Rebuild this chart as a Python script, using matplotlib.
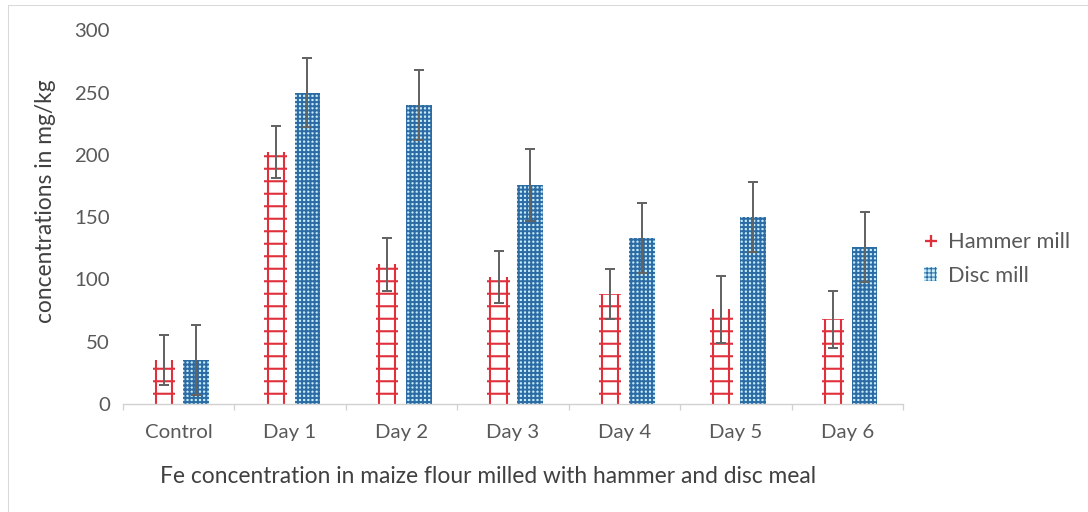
import numpy as np
import matplotlib
matplotlib.use("Agg")
import matplotlib.pyplot as plt
from matplotlib.lines import Line2D
from matplotlib.patches import Patch

plt.rcParams['font.family'] = ['Lato', 'DejaVu Sans']

categories = ['Control', 'Day 1', 'Day 2', 'Day 3', 'Day 4', 'Day 5', 'Day 6']
hammer = [35, 202, 112, 102, 88, 76, 68]
hammer_err = [20, 21, 21, 21, 20, 27, 23]
disc = [35, 250, 240, 176, 133, 150, 126]
disc_err = [28, 28, 28, 29, 28, 28, 28]

grey = '#636363'
red = '#e0303c'
blue = '#2c6ba3'
light = '#c8eefb'

x = np.arange(len(categories))
xh = x - 0.13
xd = x + 0.155

# dpi 75 keeps the hatch spacing close to the ladder look
fig = plt.figure(figsize=(1088 / 75, 512 / 75), dpi=75)
ax = fig.add_axes([0.113, 0.211, 0.717, 0.73])

with plt.rc_context({'hatch.linewidth': 2.0}):
    hb = ax.bar(xh, hammer, 0.2, color='white', edgecolor=red, linewidth=0, hatch='-')
with plt.rc_context({'hatch.linewidth': 1.9}):
    db = ax.bar(xd, disc, 0.23, color=light, edgecolor=blue, linewidth=0, hatch='+++')
for p in hb:
    if hasattr(p, 'set_hatch_linewidth'):
        p.set_hatch_linewidth(2.0)
for p in db:
    if hasattr(p, 'set_hatch_linewidth'):
        p.set_hatch_linewidth(1.9)

# the two rails of each hammer-mill ladder
ax.vlines(np.concatenate([xh - 0.072, xh + 0.072]), 0, hammer + hammer,
          colors=red, linewidth=2.0)

ax.errorbar(xh, hammer, yerr=hammer_err, fmt='none', ecolor=grey,
            elinewidth=1.9, capsize=4.5, capthick=1.9)
ax.errorbar(xd, disc, yerr=disc_err, fmt='none', ecolor=grey,
            elinewidth=1.9, capsize=4.5, capthick=1.9)

ax.set_ylim(0, 300)
ax.set_xlim(-0.5, len(categories) - 0.5)
ax.set_yticks(range(0, 301, 50))
ax.set_xticks(x)
ax.set_xticklabels(categories)
ax.set_xticks(np.arange(-0.5, len(categories), 1), minor=True)
ax.tick_params(axis='x', which='major', length=0, pad=19, labelsize=19.5, labelcolor='#595959')
ax.tick_params(axis='x', which='minor', length=6, width=1.2, color='#d0d0d0')
ax.tick_params(axis='y', length=0, pad=12.5, labelsize=19.5, labelcolor='#595959')
for s in ['top', 'right', 'left']:
    ax.spines[s].set_visible(False)
ax.spines['bottom'].set_color('#d0d0d0')
ax.spines['bottom'].set_linewidth(1.3)

ax.set_ylabel('concentrations in mg/kg', fontsize=21.8, color='#404040')
ax.yaxis.set_label_coords(-0.086, 0.543)
ax.set_xlabel('Fe concentration in maize flour milled with hammer and disc meal',
              fontsize=21.8, color='#404040')
ax.xaxis.set_label_coords(0.468, -0.165)

handles = [
    Line2D([], [], marker='+', color=red, linestyle='none', markersize=12, markeredgewidth=2.2),
    Patch(facecolor=light, edgecolor=blue, linewidth=0, hatch='+++'),
]
ax.legend(handles, ['Hammer mill', 'Disc mill'], loc='center left',
          bbox_to_anchor=(1.027, 0.388), frameon=False, fontsize=21,
          labelcolor='#595959', handlelength=0.6, handleheight=0.6,
          handletextpad=0.5, labelspacing=0.6, borderpad=0, borderaxespad=0)

# thin frame along the top and left of the figure
fig.add_artist(Line2D([8 / 1088, 8 / 1088], [0, 1 - 5 / 512], color='#d9d9d9', lw=1))
fig.add_artist(Line2D([8 / 1088, 1], [1 - 5 / 512, 1 - 5 / 512], color='#d9d9d9', lw=1))

fig.savefig('out.png', dpi=75)
